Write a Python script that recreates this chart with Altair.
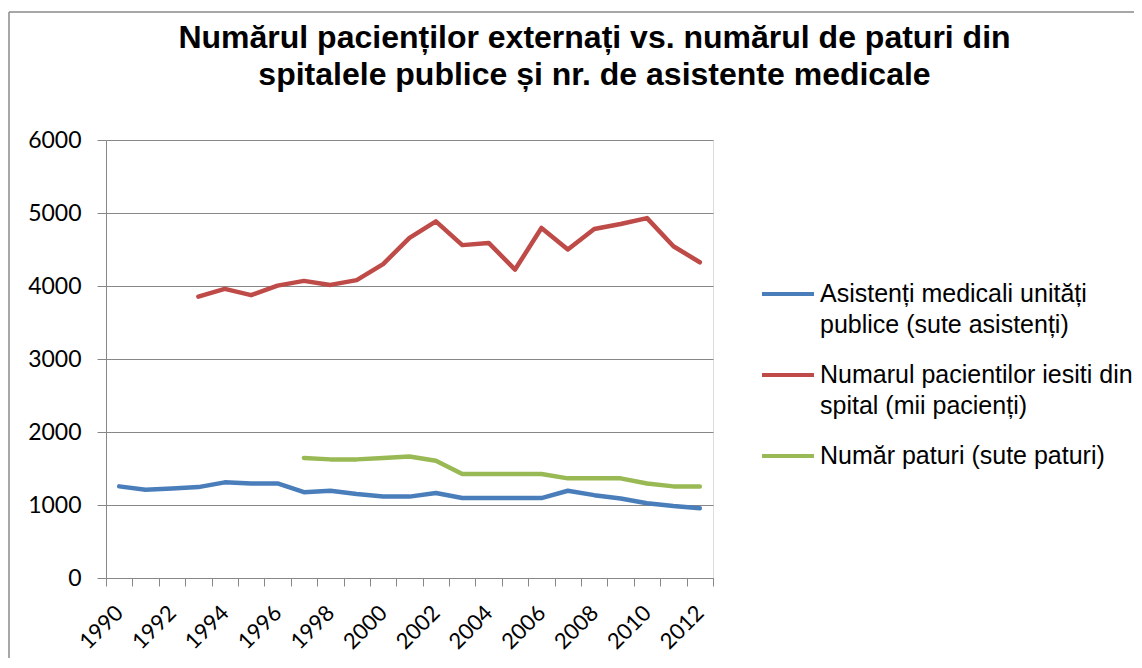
import altair as alt
import pandas as pd

years = list(range(1990, 2013))

asistenti_years = list(range(1990, 2013))
asistenti = [1255, 1210, 1225, 1245, 1310, 1295, 1295, 1175, 1195, 1150, 1115, 1115,
             1165, 1095, 1095, 1095, 1095, 1195, 1135, 1090, 1025, 985, 955]

pacienti_years = list(range(1993, 2013))
pacienti = [3855, 3960, 3875, 4005, 4070, 4015, 4080, 4300, 4660, 4885, 4560, 4590,
            4225, 4795, 4500, 4780, 4850, 4930, 4545, 4325]

paturi_years = list(range(1997, 2013))
paturi = [1645, 1625, 1625, 1645, 1665, 1605, 1425, 1425, 1425, 1425, 1365, 1365,
          1365, 1295, 1255, 1255]

series_names = [
    "Asistenți medicali unități|publice (sute asistenți)",
    "Numarul pacientilor iesiti din|spital (mii pacienți)",
    "Număr paturi (sute paturi)",
]
series_colors = ["#4A7EBB", "#BE4B48", "#98B954"]

title_lines = [
    "Numărul pacienților externați vs. numărul de paturi din",
    "spitalele publice și nr. de asistente medicale",
]

y_ticks = [0, 1000, 2000, 3000, 4000, 5000, 6000]

rows = []
for yrs, vals, name in [(asistenti_years, asistenti, series_names[0]),
                        (pacienti_years, pacienti, series_names[1]),
                        (paturi_years, paturi, series_names[2])]:
    for yr, v in zip(yrs, vals):
        rows.append({"year": yr, "value": v, "series": name})
df = pd.DataFrame(rows)

GRAY = "#878787"

lines = alt.Chart(df).mark_line(strokeWidth=4.5, strokeCap="round", strokeJoin="round").encode(
    x=alt.X("year:O", bandPosition=0.5,
            scale=alt.Scale(type="band", domain=years, paddingInner=0, paddingOuter=0),
            axis=alt.Axis(title=None, tickBand="extent", grid=False,
                          labelExpr="datum.value % 2 == 0 ? datum.label : ''",
                          labelAngle=315, labelAlign="right", labelBaseline="middle",
                          labelFont="Lato", labelFontSize=22, labelColor="#000000",
                          labelPadding=23, labelOverlap=False,
                          tickColor=GRAY, tickSize=8, domainColor=GRAY)),
    y=alt.Y("value:Q", scale=alt.Scale(domain=[0, 6000], nice=False),
            axis=alt.Axis(title=None, values=y_ticks, format="d", grid=True,
                          gridColor=GRAY, domainColor=GRAY, tickColor=GRAY, tickSize=9,
                          labelFont="Lato", labelFontSize=23, labelColor="#000000",
                          labelPadding=16)),
    color=alt.Color("series:N", sort=series_names,
                    scale=alt.Scale(domain=series_names, range=series_colors),
                    legend=alt.Legend(title=None, orient="none", legendX=654, legendY=126,
                                      padding=0,
                                      symbolType="stroke", symbolSize=2704,
                                      symbolStrokeWidth=4,
                                      labelFont="Liberation Sans", labelFontSize=25,
                                      labelColor="#000000", labelLimit=600, labelOffset=4,
                                      rowPadding=9,
                                      labelExpr="split(datum.label, '|')")),
)

frame_df = pd.DataFrame({"k": [0]})
left_border = alt.Chart(frame_df).mark_rule(color="#8a8a8a", strokeWidth=1.5).encode(
    x=alt.value(-97), y=alt.value(-128), y2=alt.value(520))
top_border = alt.Chart(frame_df).mark_rule(color="#8a8a8a", strokeWidth=1.5).encode(
    x=alt.value(-97), x2=alt.value(1040), y=alt.value(-128))

chart = alt.layer(left_border, top_border, lines).properties(
    width=607,
    height=438,
    title=alt.TitleParams(text=title_lines, font="Liberation Sans", fontSize=32,
                          fontWeight="bold", color="#000000", anchor="middle",
                          baseline="top", dx=185, dy=81, lineHeight=37, offset=0),
    autosize=alt.AutoSizeParams(type="none"),
    padding={"left": 98, "top": 132, "right": 421, "bottom": 80},
).configure_view(stroke=None).configure(
    style={"guide-label": {"lineHeight": 31}}
)

chart.save("out.html", embed_options={"renderer": "svg", "actions": False})
